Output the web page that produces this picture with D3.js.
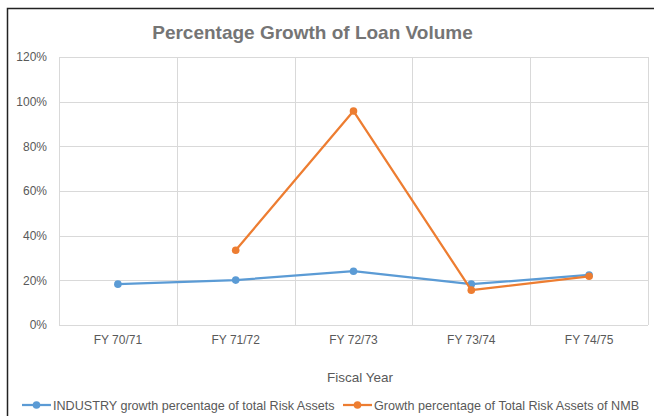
<!DOCTYPE html>
<html>
<head>
<meta charset="utf-8">
<script src="https://cdn.jsdelivr.net/npm/d3@7"></script>
<style>
  body { margin: 0; background: #fff; }
  text { font-family: "Liberation Sans", Arial, sans-serif; }
</style>
</head>
<body>
<svg id="chart" width="654" height="416"></svg>
<script>
const years = ['FY 70/71', 'FY 71/72', 'FY 72/73', 'FY 73/74', 'FY 74/75'];
const industry = [18.3, 20.1, 24.1, 18.3, 22.4];
const nmb = [null, 33.5, 95.8, 15.6, 21.8];
const yTicks = [0, 20, 40, 60, 80, 100, 120];
const seriesNames = ['INDUSTRY growth percentage of total Risk Assets', 'Growth percentage of Total Risk Assets of NMB'];
const colors = ['#5b9bd5', '#ed7d31'];

const svg = d3.select('#chart');
const plot = {left: 59, right: 648, top: 57, bottom: 325};

// outer frame (cropped on the right and bottom)
svg.append('path')
    .attr('d', 'M7.5 416 V8.5 H654')
    .attr('fill', 'none')
    .attr('stroke', '#222')
    .attr('stroke-width', 1.5);

const x = d3.scaleBand().domain(years).range([plot.left, plot.right]);
const y = d3.scaleLinear().domain([0, 120]).range([plot.bottom, plot.top]);

// horizontal grid
svg.append('g')
    .selectAll('line')
    .data(yTicks)
    .join('line')
    .attr('x1', plot.left).attr('x2', plot.right)
    .attr('y1', d => Math.round(y(d)) + 0.5).attr('y2', d => Math.round(y(d)) + 0.5)
    .attr('stroke', '#d9d9d9');

// vertical grid at band edges
const edges = years.map(d => x(d)).concat([plot.right]);
svg.append('g')
    .selectAll('line')
    .data(edges)
    .join('line')
    .attr('x1', d => Math.round(d) + 0.5).attr('x2', d => Math.round(d) + 0.5)
    .attr('y1', plot.top).attr('y2', plot.bottom)
    .attr('stroke', '#d9d9d9');

// y axis labels
const yAxis = svg.append('g')
    .attr('transform', `translate(${plot.left},0)`)
    .call(d3.axisLeft(y).tickValues(yTicks).tickSize(0).tickPadding(12).tickFormat(d => d + '%'));
yAxis.select('.domain').remove();
yAxis.selectAll('text').attr('fill', '#595959').style('font-size', '12px')
    .style('font-family', '"Liberation Sans", Arial, sans-serif');

// x axis labels
const xAxis = svg.append('g')
    .attr('transform', `translate(0,${plot.bottom})`)
    .call(d3.axisBottom(x).tickSize(0).tickPadding(10));
xAxis.select('.domain').remove();
xAxis.selectAll('text').attr('fill', '#595959').style('font-size', '12px')
    .style('font-family', '"Liberation Sans", Arial, sans-serif');

// series
const cx = d => x(d) + x.bandwidth() / 2;
[industry, nmb].forEach((vals, i) => {
    const pts = years.map((yr, j) => ({yr, v: vals[j]})).filter(p => p.v != null);
    const line = d3.line().x(p => cx(p.yr)).y(p => y(p.v));
    svg.append('path')
        .datum(pts)
        .attr('d', line)
        .attr('fill', 'none')
        .attr('stroke', colors[i])
        .attr('stroke-width', 2.25)
        .attr('stroke-linejoin', 'round');
    svg.append('g')
        .selectAll('circle')
        .data(pts)
        .join('circle')
        .attr('cx', p => cx(p.yr))
        .attr('cy', p => y(p.v))
        .attr('r', 3.8)
        .attr('fill', colors[i]);
});

// title
svg.append('text')
    .attr('x', 312.5).attr('y', 39)
    .attr('text-anchor', 'middle')
    .attr('fill', '#757575')
    .style('font-size', '19px')
    .style('font-weight', 'bold')
    .text('Percentage Growth of Loan Volume');

// x axis title
svg.append('text')
    .attr('x', 360).attr('y', 382)
    .attr('text-anchor', 'middle')
    .attr('fill', '#595959')
    .style('font-size', '13.5px')
    .text('Fiscal Year');

// legend
const legendItems = [{x: 22, name: seriesNames[0], c: colors[0]}, {x: 343, name: seriesNames[1], c: colors[1]}];
const lg = svg.append('g').selectAll('g').data(legendItems).join('g')
    .attr('transform', d => `translate(${d.x},405)`);
lg.append('line').attr('x1', 0).attr('x2', 29).attr('stroke', d => d.c).attr('stroke-width', 2.25);
lg.append('circle').attr('cx', 14.5).attr('r', 3.8).attr('fill', d => d.c);
lg.append('text').attr('x', 31).attr('y', 4.5)
    .attr('fill', '#595959')
    .style('font-size', '12.6px')
    .text(d => d.name);
</script>
</body>
</html>
